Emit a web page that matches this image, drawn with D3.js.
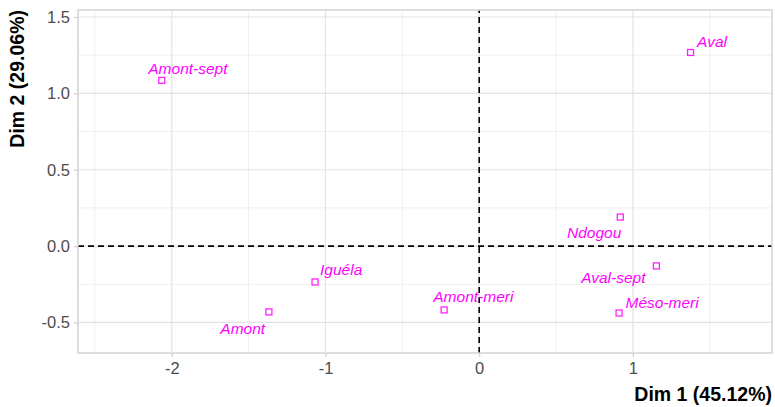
<!DOCTYPE html>
<html><head><meta charset="utf-8">
<script src="https://cdn.jsdelivr.net/npm/d3@7"></script>
<style>body{margin:0;background:#fff;} svg{display:block;}</style>
</head><body>
<script>
const names = ["Amont-sept","Aval","Iguéla","Amont","Ndogou","Aval-sept","Méso-meri","Amont-meri"];
const dim1 = [-2.065, 1.375, -1.068, -1.368, 0.918, 1.153, 0.91, -0.228];
const dim2 = [1.085, 1.268, -0.235, -0.431, 0.19, -0.13, -0.438, -0.418];
// label offsets (repelled label positions, in data units)
const labelDx = [0.17, 0.14, 0.17, -0.17, -0.17, -0.28, 0.28, 0.19];
const labelDy = [0.08, 0.07, 0.08, -0.11, -0.1, -0.075, 0.07, 0.085];
const xTicks = [-2, -1, 0, 1];
const yTicks = [-0.5, 0.0, 0.5, 1.0, 1.5];
const xTitle = "Dim 1 (45.12%)";
const yTitle = "Dim 2 (29.06%)";

const W = 775, H = 407;
const m = {left: 78, top: 10, right: 3, bottom: 54};
const svg = d3.select("body").append("svg").attr("width", W).attr("height", H);
const x = d3.scaleLinear().domain([-2.61, 1.905]).range([m.left, W - m.right]);
const y = d3.scaleLinear().domain([-0.70, 1.546]).range([H - m.bottom, m.top]);

const grid = svg.append("g");
const xMinor = d3.range(-2.5, 2, 1);
const yMinor = d3.range(-0.25, 1.6, 0.5);
grid.selectAll(".xm").data(xMinor).join("line").attr("x1", d => x(d)).attr("x2", d => x(d))
  .attr("y1", y.range()[0]).attr("y2", y.range()[1]).attr("stroke", "#efefef").attr("stroke-width", 1);
grid.selectAll(".ym").data(yMinor).join("line").attr("y1", d => y(d)).attr("y2", d => y(d))
  .attr("x1", x.range()[0]).attr("x2", x.range()[1]).attr("stroke", "#efefef").attr("stroke-width", 1);
grid.selectAll(".xM").data(xTicks).join("line").attr("x1", d => x(d)).attr("x2", d => x(d))
  .attr("y1", y.range()[0]).attr("y2", y.range()[1]).attr("stroke", "#e3e3e3").attr("stroke-width", 1.2);
grid.selectAll(".yM").data(yTicks).join("line").attr("y1", d => y(d)).attr("y2", d => y(d))
  .attr("x1", x.range()[0]).attr("x2", x.range()[1]).attr("stroke", "#e3e3e3").attr("stroke-width", 1.2);

// dashed reference lines
svg.append("line").attr("x1", x.range()[0]).attr("x2", x.range()[1]).attr("y1", y(0)).attr("y2", y(0))
  .attr("stroke", "#000").attr("stroke-width", 1.6).attr("stroke-dasharray", "6,4");
svg.append("line").attr("y1", y.range()[0]).attr("y2", y.range()[1]).attr("x1", x(0)).attr("x2", x(0))
  .attr("stroke", "#000").attr("stroke-width", 1.6).attr("stroke-dasharray", "6,4");

// axes
const xAxis = svg.append("g").attr("transform", `translate(0,${H - m.bottom})`)
  .call(d3.axisBottom(x).tickValues(xTicks).tickSize(4).tickPadding(5).tickFormat(d3.format("d")));
const yAxis = svg.append("g").attr("transform", `translate(${m.left},0)`)
  .call(d3.axisLeft(y).tickValues(yTicks).tickSize(4).tickPadding(4).tickFormat(d3.format(".1f")));
[xAxis, yAxis].forEach(a => {
  a.select(".domain").remove();
  a.selectAll(".tick line").attr("stroke", "#cfcfcf").attr("stroke-width", 1.2);
  a.selectAll(".tick text").attr("fill", "#4d4d4d").style("font-family", "Liberation Sans, Arial, sans-serif").style("font-size", "16.5px");
});
xAxis.selectAll(".tick text").text(d => d < 0 ? "-" + Math.abs(d) : d);
yAxis.selectAll(".tick text").text(d => (d < 0 ? "-" : "") + Math.abs(d).toFixed(1));

// panel border
svg.append("rect").attr("x", x.range()[0]).attr("y", y.range()[1])
  .attr("width", x.range()[1] - x.range()[0]).attr("height", y.range()[0] - y.range()[1])
  .attr("fill", "none").attr("stroke", "#d4d4d4").attr("stroke-width", 1.5);

// points
const data = names.map((n, i) => ({n, x: dim1[i], y: dim2[i], dx: labelDx[i], dy: labelDy[i]}));
svg.selectAll(".pt").data(data).join("rect")
  .attr("x", d => x(d.x) - 3).attr("y", d => y(d.y) - 3).attr("width", 6).attr("height", 6)
  .attr("fill", "none").attr("stroke", "#ff22ff").attr("stroke-width", 1.3);
svg.selectAll(".lb").data(data).join("text")
  .attr("x", d => x(d.x + d.dx)).attr("y", d => y(d.y + d.dy))
  .attr("text-anchor", "middle").attr("dominant-baseline", "central")
  .attr("fill", "#ff00ff").style("font-style", "italic")
  .style("font-family", "Liberation Sans, Arial, sans-serif").style("font-size", "15.5px")
  .text(d => d.n);

// titles
svg.append("text").attr("x", W - 3).attr("y", H - 6).attr("text-anchor", "end")
  .style("font-family", "Liberation Sans, Arial, sans-serif").style("font-weight", "bold").style("font-size", "19.5px")
  .text(xTitle);
svg.append("text").attr("transform", `translate(24,${m.top})rotate(-90)`).attr("text-anchor", "end")
  .style("font-family", "Liberation Sans, Arial, sans-serif").style("font-weight", "bold").style("font-size", "19.5px")
  .text(yTitle);
</script>
</body></html>
